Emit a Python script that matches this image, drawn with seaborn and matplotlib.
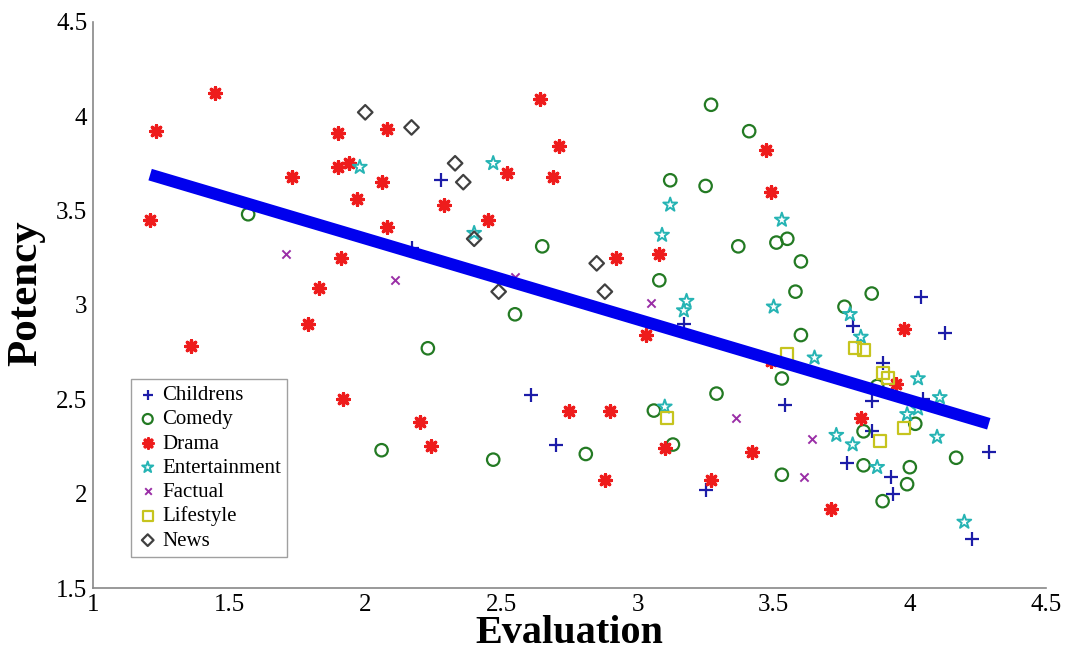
import matplotlib
matplotlib.use("Agg")
import matplotlib.pyplot as plt
import seaborn as sns
import pandas as pd

# ---------- data (Evaluation, Potency)
genres = ["Childrens", "Comedy", "Drama", "Entertainment", "Factual", "Lifestyle", "News"]

childrens_x = [2.28, 2.17, 2.61, 2.70, 3.17, 3.79, 3.90, 3.86, 3.54, 3.86, 4.05, 3.77, 3.93, 3.94, 4.29, 4.23, 4.04, 4.13, 3.25]
childrens_y = [3.66, 3.30, 2.52, 2.26, 2.90, 2.89, 2.69, 2.49, 2.47, 2.33, 2.50, 2.16, 2.09, 2.00, 2.22, 1.76, 3.04, 2.85, 2.02]

comedy_x = [1.57, 2.65, 2.55, 2.23, 2.06, 2.47, 2.81, 3.27, 3.41, 3.12, 3.25, 3.37, 3.51, 3.55, 3.60, 3.08, 3.58,
            3.86, 3.76, 3.60, 3.53, 3.29, 3.06, 3.13, 3.88, 4.02, 3.83, 4.17, 3.83, 4.00, 3.99, 3.90, 3.53]
comedy_y = [3.48, 3.31, 2.95, 2.77, 2.23, 2.18, 2.21, 4.06, 3.92, 3.66, 3.63, 3.31, 3.33, 3.35, 3.23, 3.13, 3.07,
            3.06, 2.99, 2.84, 2.61, 2.53, 2.44, 2.26, 2.57, 2.37, 2.33, 2.19, 2.15, 2.14, 2.05, 1.96, 2.10]

drama_x = [1.45, 1.23, 1.21, 1.73, 1.90, 1.90, 1.94, 1.97, 1.91, 1.83, 1.79, 1.36, 1.92, 2.08, 2.06, 2.29, 2.08,
           2.45, 2.52, 2.64, 2.71, 2.69, 2.92, 2.20, 2.24, 2.75, 2.90, 2.88, 3.08, 3.03, 3.98, 3.95, 3.82, 3.49,
           3.10, 3.42, 3.47, 3.49, 3.27, 3.71]
drama_y = [4.12, 3.92, 3.45, 3.68, 3.91, 3.73, 3.75, 3.56, 3.25, 3.09, 2.90, 2.78, 2.50, 3.93, 3.65, 3.53, 3.41,
           3.45, 3.70, 4.09, 3.84, 3.68, 3.25, 2.38, 2.25, 2.44, 2.44, 2.07, 3.27, 2.84, 2.87, 2.58, 2.40, 2.70,
           2.24, 2.22, 3.82, 3.60, 2.07, 1.92]

entertainment_x = [1.98, 2.47, 2.40, 3.12, 3.09, 3.53, 3.18, 3.17, 3.50, 3.78, 3.82, 3.65, 3.10, 4.03, 4.11,
                   4.03, 3.99, 4.10, 3.73, 3.79, 3.88, 4.20]
entertainment_y = [3.73, 3.75, 3.38, 3.53, 3.37, 3.45, 3.02, 2.97, 2.99, 2.95, 2.83, 2.72, 2.46, 2.61, 2.51,
                   2.45, 2.42, 2.30, 2.31, 2.26, 2.14, 1.85]

factual_x = [1.71, 2.11, 2.55, 3.05, 3.36, 3.64, 3.61]
factual_y = [3.27, 3.13, 3.15, 3.01, 2.40, 2.29, 2.09]

lifestyle_x = [3.55, 3.80, 3.83, 3.90, 3.92, 3.11, 3.98, 3.89]
lifestyle_y = [2.74, 2.77, 2.76, 2.64, 2.61, 2.40, 2.35, 2.28]

news_x = [2.00, 2.17, 2.33, 2.36, 2.40, 2.49, 2.85, 2.88]
news_y = [4.02, 3.94, 3.75, 3.65, 3.35, 3.07, 3.22, 3.07]

# fitted line end points
fit_x = [1.21, 4.29]
fit_y = [3.69, 2.37]

xs = [childrens_x, comedy_x, drama_x, entertainment_x, factual_x, lifestyle_x, news_x]
ys = [childrens_y, comedy_y, drama_y, entertainment_y, factual_y, lifestyle_y, news_y]
df = pd.concat(
    [pd.DataFrame({"Evaluation": x, "Potency": y, "Genre": g}) for g, x, y in zip(genres, xs, ys)],
    ignore_index=True,
)

# MATLAB-ish marker styles per genre: (marker, colour, hollow, size, linewidth)
styles = {
    "Childrens": ("+", "#1c1ca8", False, 90, 1.6),
    "Comedy": ("o", "#237a23", True, 80, 1.6),
    "Drama": ((8, 2, 0), "#ee1c1c", False, 70, 2.4),
    "Entertainment": ("*", "#26b4b4", True, 110, 1.4),
    "Factual": ("x", "#9a2ea6", False, 35, 1.4),
    "Lifestyle": ("s", "#c6c41e", True, 75, 1.6),
    "News": ("D", "#404040", True, 55, 1.6),
}

sns.set_style("white")
plt.rcParams["font.family"] = ["Liberation Serif", "DejaVu Serif"]

fig = plt.figure(figsize=(10.67, 6.54), dpi=100)
ax = fig.add_axes([0.0871, 0.1009, 0.8932, 0.8659])

for g in genres:
    sub = df[df["Genre"] == g]
    mk, col, hollow, s, lw = styles[g]
    if hollow:
        sns.scatterplot(data=sub, x="Evaluation", y="Potency", marker=mk, s=s,
                        facecolor="none", edgecolor=col, linewidth=lw, label=g, ax=ax, zorder=3)
    else:
        sns.scatterplot(data=sub, x="Evaluation", y="Potency", marker=mk, s=s,
                        color=col, linewidth=lw, label=g, ax=ax, zorder=3)

sns.lineplot(x=fit_x, y=fit_y, color="#0000ee", linewidth=8.6, ax=ax, zorder=4,
             solid_capstyle="butt")

ax.set_xlim(1, 4.5)
ax.set_ylim(1.5, 4.5)
ax.set_xticks([1, 1.5, 2, 2.5, 3, 3.5, 4, 4.5])
ax.set_xticklabels(["1", "1.5", "2", "2.5", "3", "3.5", "4", "4.5"])
ax.set_yticks([1.5, 2, 2.5, 3, 3.5, 4, 4.5])
ax.set_yticklabels(["1.5", "2", "2.5", "3", "3.5", "4", "4.5"])
ax.tick_params(direction="in", length=7, width=1, color="#888888", labelsize=18,
               labelcolor="black", pad=4)
ax.tick_params(axis="x", pad=4)

for side in ["top", "right"]:
    ax.spines[side].set_visible(False)
for side in ["left", "bottom"]:
    ax.spines[side].set_color("#888888")
    ax.spines[side].set_linewidth(1.2)

ax.set_xlabel("Evaluation", fontsize=29, fontweight="bold", color="black")
ax.xaxis.set_label_coords(0.5, -0.047)
ax.set_ylabel("Potency", fontsize=31, fontweight="bold", color="black")
ax.yaxis.set_label_coords(-0.05, 0.52)

leg = ax.legend(loc="lower left", bbox_to_anchor=(0.04, 0.055), borderaxespad=0, fontsize=15,
                frameon=True, fancybox=False, edgecolor="#888888", handletextpad=0.2,
                labelspacing=0.22, borderpad=0.3, handlelength=1.0, markerscale=0.8)
leg.get_frame().set_linewidth(1.0)
for t in leg.get_texts():
    t.set_color("black")

fig.savefig("out.png", dpi=100)
